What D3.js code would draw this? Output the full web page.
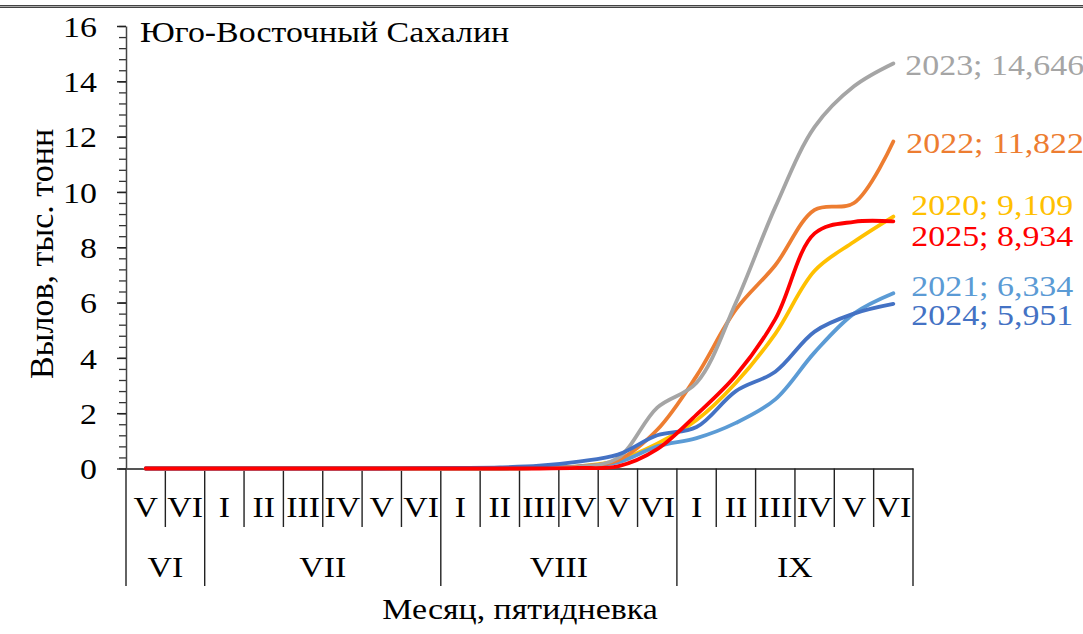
<!DOCTYPE html>
<html>
<head>
<meta charset="utf-8">
<script src="https://cdn.jsdelivr.net/npm/d3@7"></script>
<style>
  body { margin: 0; background: #fff; }
  svg text { font-family: "Liberation Serif", "Times New Roman", serif !important; }
</style>
</head>
<body>
<div id="chart"></div>
<script>
// pentads (five-day periods) from June V to September VI
var pentads = ["V","VI","I","II","III","IV","V","VI","I","II","III","IV","V","VI","I","II","III","IV","V","VI"];
var months = ["VI","VII","VIII","IX"];
var monthSpans = [2, 6, 6, 6];
var yTicks = [0, 2, 4, 6, 8, 10, 12, 14, 16];

var years = ["2020","2021","2022","2023","2024","2025"];
var v2020 = [0,0,0,0,0,0,0,0,0,0,0.02,0.08,0.3,0.9,1.75,3.1,4.87,7.15,8.2,9.109];
var v2021 = [0,0,0,0,0,0,0,0,0,0,0.02,0.08,0.22,0.8,1.1,1.65,2.5,4.2,5.6,6.334];
var v2022 = [0,0,0,0,0,0,0,0,0,0,0.02,0.07,0.3,1.4,3.35,5.75,7.35,9.35,9.6,11.822];
var v2023 = [0,0,0,0,0,0,0,0,0,0,0.01,0.05,0.38,2.2,3.1,6.0,9.45,12.35,13.82,14.646];
var v2024 = [0,0,0,0,0,0,0,0.01,0.02,0.04,0.1,0.25,0.5,1.2,1.5,2.8,3.5,4.95,5.6,5.951];
var v2025 = [0,0,0,0,0,0,0,0,0,0,0,0.02,0.08,0.7,1.95,3.37,5.4,8.5,8.92,8.934];
var totals = ["9,109","6,334","11,822","14,646","5,951","8,934"];

(function() {
	var colors = {"2020":"#FFC000","2021":"#5B9BD5","2022":"#ED7D31","2023":"#A5A5A5","2024":"#4472C4","2025":"#FF0000"};
	var labelShift = {"2020":-12,"2021":-8,"2022":1,"2023":1,"2024":11,"2025":14};	// vertical nudge of end labels
	var labelGap = {"2020":18,"2021":18,"2022":13,"2023":12,"2024":18,"2025":18};

	var series = [v2020, v2021, v2022, v2023, v2024, v2025].map(function(v, k) {
		return {year: years[k], values: v, total: totals[k]};
	});

	var width = 1083, height = 634;
	var sx = 1.13;	// glyphs in the picture are a bit wider than tall
	var fs = 30;
	var serif = "'Liberation Serif', 'Times New Roman', serif";

	var svg = d3.select("#chart").append("svg")
		.attr("width", width)
		.attr("height", height)
		.attr("font-family", serif);

	// top frame line
	svg.append("rect").attr("x", 0).attr("y", 5).attr("width", width).attr("height", 3).attr("fill", "#444");
	svg.append("line").attr("x1", 0).attr("x2", width).attr("y1", 6.5).attr("y2", 6.5)
		.attr("stroke", "#aaa").attr("stroke-width", 1);

	var pl = 126, pr = 913, pt = 26, pb = 468.5;

	var x = d3.scaleBand()
		.domain(d3.range(pentads.length))
		.range([pl, pr])
		.paddingInner(0).paddingOuter(0);

	var y = d3.scaleLinear()
		.domain([0, 16])
		.range([pb, pt]);

	var cx = function(i) { return x(i) + x.bandwidth() / 2; };

	// Y axis with minor ticks
	var minor = d3.range(0, 16.01, 0.4);
	svg.append("g")
		.attr("transform", "translate(" + pl + ",0)")
		.call(d3.axisLeft(y).tickValues(minor).tickSize(7).tickFormat(""))
		.call(function(g) {
			g.select(".domain").remove();
			g.selectAll("line").attr("stroke", "#333").attr("stroke-width", 1.3);
		});

	var yAxis = svg.append("g")
		.attr("transform", "translate(" + pl + ",0)")
		.call(d3.axisLeft(y).tickValues(yTicks).tickSize(9).tickSizeOuter(0));
	yAxis.attr("font-family", serif);
	yAxis.select(".domain").attr("stroke", "#444").attr("stroke-width", 1.5);
	yAxis.selectAll("line").attr("stroke", "#222").attr("stroke-width", 1.5);
	yAxis.selectAll("text")
		.attr("x", -29 / sx)
		.attr("dy", "0.34em")
		.attr("transform", "scale(" + sx + ",1)")
		.style("font-size", fs + "px")
		.attr("fill", "#000");

	// X axis: pentads
	var xAxis = svg.append("g")
		.attr("transform", "translate(0," + pb + ")")
		.call(d3.axisBottom(x).tickSize(0).tickFormat(function(i) { return pentads[i]; }));
	xAxis.attr("font-family", serif);
	xAxis.select(".domain").attr("stroke", "#555").attr("stroke-width", 2);
	xAxis.selectAll("text")
		.attr("y", 0)
		.attr("dy", 49)
		.attr("x", 0)
		.attr("transform", "scale(" + sx + ",1)")
		.style("font-size", fs + "px")
		.attr("fill", "#000");

	// separators
	var bounds = d3.range(pentads.length + 1);
	var monthEdges = [0];
	monthSpans.forEach(function(s, k) { monthEdges.push(monthEdges[k] + s); });

	svg.append("g").selectAll("line")
		.data(bounds)
		.enter().append("line")
		.attr("x1", function(i) { return pl + i * x.step(); })
		.attr("x2", function(i) { return pl + i * x.step(); })
		.attr("y1", pb)
		.attr("y2", function(i) { return monthEdges.indexOf(i) >= 0 ? 586 : 527; })
		.attr("stroke", "#222")
		.attr("stroke-width", 1.4);

	// month labels
	svg.append("g").selectAll("text")
		.data(months)
		.enter().append("text")
		.attr("transform", function(d, k) {
			var c = pl + (monthEdges[k] + monthSpans[k] / 2) * x.step();
			return "translate(" + c + ",577) scale(" + sx + ",1)";
		})
		.attr("text-anchor", "middle")
		.style("font-size", fs + "px")
		.text(function(d) { return d; });

	// axis titles
	svg.append("text")
		.attr("transform", "translate(520,619) scale(" + sx + ",1)")
		.attr("text-anchor", "middle")
		.style("font-size", fs + "px")
		.text("Месяц, пятидневка");

	svg.append("text")
		.attr("transform", "translate(53,254) rotate(-90)")
		.attr("text-anchor", "middle")
		.style("font-size", "34px")
		.text("Вылов, тыс. тонн");

	svg.append("text")
		.attr("transform", "translate(140,42) scale(" + sx + ",1)")
		.style("font-size", fs + "px")
		.text("Юго-Восточный Сахалин");

	// lines
	var line = d3.line()
		.x(function(d, i) { return cx(i); })
		.y(function(d) { return y(d); })
		.curve(d3.curveCatmullRom.alpha(0.5));

	svg.append("g").selectAll("path")
		.data(series)
		.enter().append("path")
		.attr("d", function(d) { return line(d.values); })
		.attr("fill", "none")
		.attr("stroke", function(d) { return colors[d.year]; })
		.attr("stroke-width", 3.8)
		.attr("stroke-linecap", "round");

	// end labels
	svg.append("g").selectAll("text")
		.data(series)
		.enter().append("text")
		.attr("transform", function(d) {
			var n = d.values.length - 1;
			var tx = cx(n) + labelGap[d.year];
			var ty = y(d.values[n]) + labelShift[d.year];
			return "translate(" + tx + "," + ty + ") scale(" + sx + ",1)";
		})
		.attr("dy", "0.34em")
		.style("font-size", fs + "px")
		.attr("fill", function(d) { return colors[d.year]; })
		.text(function(d) { return d.year + "; " + d.total; });
})();
</script>
</body>
</html>
